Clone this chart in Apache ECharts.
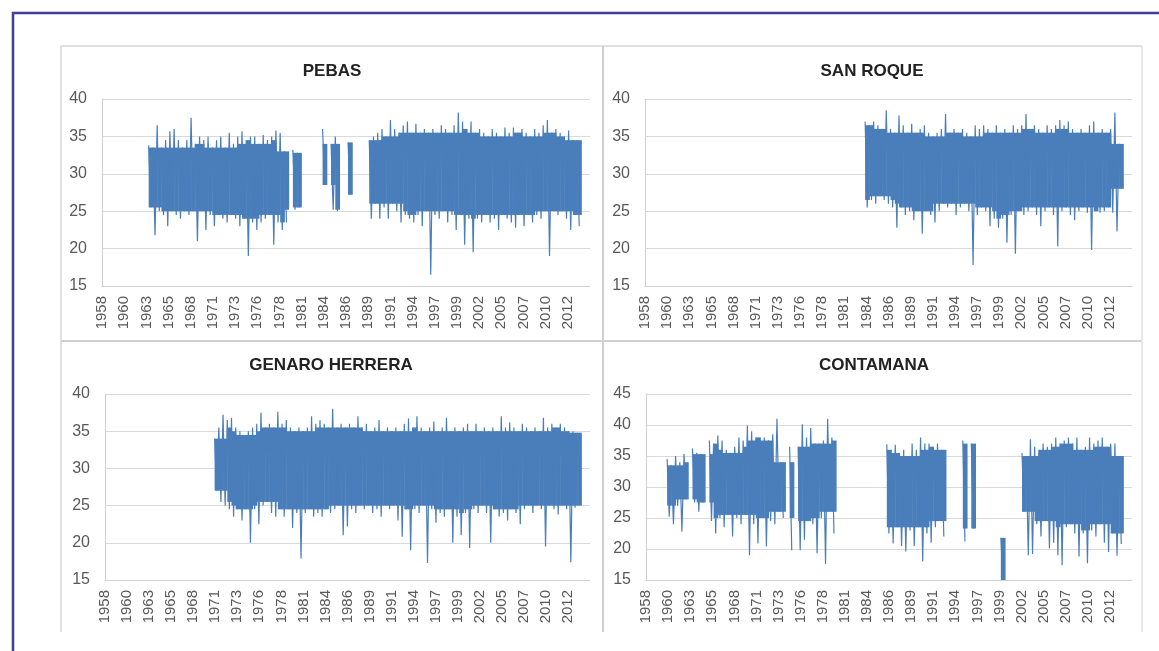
<!DOCTYPE html>
<html><head><meta charset="utf-8">
<script src="https://cdn.jsdelivr.net/npm/echarts@6/dist/echarts.min.js"></script>
<style>html,body{margin:0;padding:0;background:#fff}#c{width:1159px;height:651px}</style>
</head><body><div id="c"></div>
<script>
// ---- tick labels (Excel date labels every 955 days) ----
const TICK_LABELS = ['1958','1960','1963','1965','1968','1971','1973','1976','1978','1981','1984',
  '1986','1989','1991','1994','1997','1999','2002','2005','2007','2010','2012'];
const LABEL_STEP_YEARS = 955 / 365.25;
const FIRST_LABEL_YEAR = 1958;
const BIN = 0.5; // half-year bins: highest and lowest daily value in each

// ---- PEBAS ----
const pebasStart = 1963.5;
const pebasHi = [33.8,33.5,36.5,33.5,34.5,35.7,36,34.5,33.5,34.5,37.5,34,35,34.5,35,33.5,34.5,35,33.5,35.5,
  34,35,35.7,34.5,35,35,34,35.2,34.5,35,35.8,35.5,33,
  null,33.2,32.8,null,null,null,null,null,36,null,34,35,null,null,34.2,null,null,null,null,
  34.5,35,35.5,36,35,37.2,36,35.5,36.5,37,35.5,36.7,35.5,36,35.5,36,35.5,36.5,36,35.5,36.5,38.2,37,36,37,
  35.5,36,35.5,35,36,35.5,35,36.2,35.5,36.2,35.5,36,35.5,35,36,35.5,36.5,37.2,35.5,36,35.5,35,35.8,34.5,34.5];
const pebasLo = [25.5,21.8,25,24.5,23,25,24.5,24,25,24.5,25,21,25,22.5,24.5,23,24.5,24,23.5,24.5,
  24,23,24,19,23.5,22.5,23.5,24,24.5,20.5,23.5,22.5,23.5,
  null,25.2,25.5,null,null,null,null,null,28.5,null,25.2,25,null,null,27.2,null,null,null,null,
  24,26,24,25.5,24,26,25,23.5,24.5,24,23.5,24.5,23,25,16.5,24.5,24,25,23.5,24.5,22.5,24.5,20.5,24,19.5,
  24,23.5,24.5,23.5,24,22.5,24.5,24,23.5,22.8,24.5,23,24.5,23.5,24.5,24,25,19,25,24.5,25,24,22.5,24.5,23];

// ---- SAN ROQUE ----
const sanRoqueStart = 1984.0;
const sanRoqueHi = [37,36.5,37,36.5,36,38.5,36,35.5,37.8,36.5,35.5,36.7,35.5,36,36.5,35.5,35,35.5,36,38,
  35.5,36,35.5,36,35.5,35,36.5,36,36.5,36,35.5,36.5,35.5,36,35.5,36.5,36,36.5,38,36,
  36.5,36,35.5,36.5,36,36.5,37.2,36.5,37,36,35.5,36,35.5,36.5,37,35.5,36,35.5,36,38.2,34];
const sanRoqueLo = [25.5,26.5,26,27,26.5,26,25.5,22.8,25.5,24.5,25,23.8,25,22,25,24.5,23.5,25,26,25.5,
  26,24.5,25.5,26,25,17.8,24.5,25.5,25,23,24,22.8,24,20.8,24.5,19.3,25,24.5,25,25.5,
  24.5,23,25,25.5,24.5,20.3,25,25.5,24.5,23.8,25,25.5,24.8,19.8,25,24.8,25,25.5,24.8,22.3,28];

// ---- GENARO HERRERA ----
const genaroStart = 1971.0;
const genaroHi = [34,35.5,37.2,36.5,36.8,35.5,35,34.5,35,35.5,36,37.5,35.5,36,35.5,37.6,36,36.5,35.5,35,
  35.5,35,35.5,37,36,36.5,36,35.5,38,35.5,36,35.5,36,35.5,37,35.5,36,35,35.5,36.5,
  35,35.5,35,35.5,35,36,36.7,35.5,37,35.5,35,35.5,36.3,35,35.5,36.8,35,35.5,35,35.5,
  36,35,36,35,35.5,35,35.5,35,37,35.5,36.2,35.5,35,36,35.5,35,35.5,35,36.8,35.5,
  36,35.5,36,35.5,35,35,34.8];
const genaroLo = [27,25.5,25,24.5,23.5,24.5,23,24.5,20,24.5,22.5,25,25.5,24,23.5,24.5,23.5,24.5,22,24,
  17.9,24,24.5,23.5,24,23.5,24.5,24,24.5,25,21,22.2,24.5,24,25,24.5,25,24,24.5,23.5,
  25,24.5,25,23,20.8,24.5,19,24.5,24,25,17.3,24.5,22.7,24,23.5,24.5,20,23.5,21,24,
  19.3,24.5,24,25,24,20,24.5,23.5,24,23,24.5,24,22.5,24.5,25,24,25,24.5,19.5,25,
  24.5,23.8,25,24.5,17.4,24.7,25];

// ---- CONTAMANA ----
const contamanaStart = 1960.5;
const contamanaHi = [34.5,33.5,35,34,35.3,null,36.2,35.5,35.3,null,
  37.5,37,38.3,37.5,36,35.5,36.5,38,37.5,39.9,39,38,38,38,37.5,38.5,41,34,null,36.5,null,
  36.5,40.1,38,39.5,37,37,37.5,41,38,
  null,null,null,null,null,null,null,null,null,null,null,null,
  36.9,36,36.8,35.5,36,35,37,36,38,37,37,36.5,37,36,
  null,null,null,null,37.5,null,37,null,null,null,null,null,null,21.8,null,null,null,null,
  35.5,35,37.7,36.5,36,37,36.5,37,38,37,37.5,38,37,38,36,36.5,38,37,37.5,38,36.5,37,37,35];
const contamanaLo = [25.2,24,27,22.8,28,null,27.5,26,27.5,null,
  24.5,22.5,25,23.5,25.5,22,25,24,25.5,19,24,20.9,25,20.4,24.5,24,26,25,null,19.8,null,
  19.8,21.5,24.5,24,19.3,25,17.6,26,22.5,
  null,null,null,null,null,null,null,null,null,null,null,null,
  22.5,20.9,23.5,20.5,19.6,23,20.5,23.5,18,22.5,21,23.5,24.5,22,
  null,null,null,null,21.2,null,23.3,null,null,null,null,null,null,15,null,null,null,null,
  26,19,19.2,24,22,24.5,20.1,21,19,17.4,23.5,24,22.5,18.8,22.5,17.7,23,22,24,21,19.5,22.5,18.9,20.8];

// ---- helpers ----
function toAxis(year) { return (year - FIRST_LABEL_YEAR) / LABEL_STEP_YEARS; }
// zig-zag through each bin's high and low, like the daily line of the original
function zigzag(start, hi, lo) {
  const pts = [];
  for (let i = 0; i < hi.length; i++) {
    const t = start + i * BIN;
    if (hi[i] == null) { pts.push([toAxis(t), null]); continue; }
    pts.push([toAxis(t), hi[i]]);
    pts.push([toAxis(t + BIN / 2), lo[i]]);
  }
  return pts;
}
// dense body of each bin: the range that all nearby bins share
function bodyRows(start, hi, lo) {
  const rows = [];
  const W = 2;
  for (let i = 0; i < hi.length; i++) {
    if (hi[i] == null) continue;
    let h = hi[i], l = lo[i];
    for (let j = i - W; j <= i + W; j++) {
      if (j < 0 || j >= hi.length || hi[j] == null) continue;
      h = Math.min(h, hi[j]); l = Math.max(l, lo[j]);
    }
    if (h <= l) continue;
    const t = start + i * BIN;
    rows.push([toAxis(t), toAxis(t + BIN), l, h]);
  }
  return rows;
}

const LINE_COLOR = '#4a7ebb';
const GRID_COLOR = '#d9d9d9';
const LABEL_COLOR = '#595959';
const FONT = '"Liberation Sans", Arial, sans-serif';

function renderBody(params, api) {
  const a = api.coord([api.value(0), api.value(3)]);
  const b = api.coord([api.value(1), api.value(2)]);
  return { type: 'rect', shape: { x: a[0], y: a[1], width: b[0] - a[0] + 0.5, height: b[1] - a[1] },
    style: { fill: LINE_COLOR } };
}

const stations = [
  { title: 'PEBAS', start: pebasStart, hi: pebasHi, lo: pebasLo, ymax: 40,
    grid: { left: 102, top: 99, width: 488, height: 187 }, tx: 332, ty: 71 },
  { title: 'SAN ROQUE', start: sanRoqueStart, hi: sanRoqueHi, lo: sanRoqueLo, ymax: 40,
    grid: { left: 645, top: 99, width: 487, height: 187 }, tx: 872, ty: 71 },
  { title: 'GENARO HERRERA', start: genaroStart, hi: genaroHi, lo: genaroLo, ymax: 40,
    grid: { left: 105, top: 394, width: 485, height: 186 }, tx: 331, ty: 365 },
  { title: 'CONTAMANA', start: contamanaStart, hi: contamanaHi, lo: contamanaLo, ymax: 45,
    grid: { left: 646, top: 394, width: 486, height: 186 }, tx: 874, ty: 365 }
];

const series = [];
stations.forEach((s, i) => {
  series.push({
    type: 'custom', xAxisIndex: i, yAxisIndex: i, data: bodyRows(s.start, s.hi, s.lo),
    renderItem: renderBody, encode: { x: [0, 1], y: [2, 3] }, clip: true, z: 2
  });
  series.push({
    type: 'line', xAxisIndex: i, yAxisIndex: i, data: zigzag(s.start, s.hi, s.lo),
    showSymbol: false, symbol: 'none', connectNulls: false, sampling: null, z: 3,
    lineStyle: { color: LINE_COLOR, width: 1.2 }
  });
});

const option = {
  animation: false,
  backgroundColor: '#ffffff',
  grid: stations.map(s => s.grid),
  xAxis: stations.map((s, i) => ({
    type: 'value', gridIndex: i, min: 0, max: 22, interval: 1,
    axisLine: { show: true, lineStyle: { color: '#d0d0d0', width: 1 } },
    axisTick: { show: false },
    splitLine: { show: false },
    axisLabel: {
      rotate: 90, margin: 10, color: LABEL_COLOR, fontSize: 15, fontFamily: FONT,
      showMaxLabel: false,
      formatter: v => { const k = Math.round(v); return Math.abs(v - k) < 1e-6 && k < TICK_LABELS.length ? TICK_LABELS[k] : ''; }
    }
  })),
  yAxis: stations.map((s, i) => ({
    type: 'value', gridIndex: i, min: 15, max: s.ymax, interval: 5,
    axisLine: { show: true, lineStyle: { color: '#d0d0d0', width: 1 } },
    axisTick: { show: false },
    splitLine: { show: true, lineStyle: { color: GRID_COLOR, width: 1 } },
    axisLabel: { margin: 15, color: LABEL_COLOR, fontSize: 16, fontFamily: FONT }
  })),
  series: series,
  graphic: [
    { type: 'line', shape: { x1: 12, y1: 13, x2: 1159, y2: 13 }, style: { stroke: '#3f3f98', lineWidth: 2.5 } },
    { type: 'line', shape: { x1: 13, y1: 12, x2: 13, y2: 651 }, style: { stroke: '#3f3f98', lineWidth: 2.5 } },
    { type: 'line', shape: { x1: 61, y1: 46, x2: 1142, y2: 46 }, style: { stroke: '#d6d6d6', lineWidth: 1.5 } },
    { type: 'line', shape: { x1: 61, y1: 341, x2: 1142, y2: 341 }, style: { stroke: '#d0d0d0', lineWidth: 2 } },
    { type: 'line', shape: { x1: 61, y1: 46, x2: 61, y2: 632 }, style: { stroke: '#d6d6d6', lineWidth: 1.5 } },
    { type: 'line', shape: { x1: 603, y1: 46, x2: 603, y2: 632 }, style: { stroke: '#d0d0d0', lineWidth: 2 } },
    { type: 'line', shape: { x1: 1142, y1: 46, x2: 1142, y2: 632 }, style: { stroke: '#e2e2e2', lineWidth: 1.5 } }
  ].concat(stations.map(s => ({
    type: 'text', x: s.tx, y: s.ty,
    style: { text: s.title, fill: '#222222', font: 'bold 17px "Liberation Sans", Arial, sans-serif',
      textAlign: 'center', textVerticalAlign: 'middle' }
  })))
};

const chart = echarts.init(document.getElementById('c'), null, { renderer: 'canvas' });
chart.setOption(option);
</script>
</body></html>
